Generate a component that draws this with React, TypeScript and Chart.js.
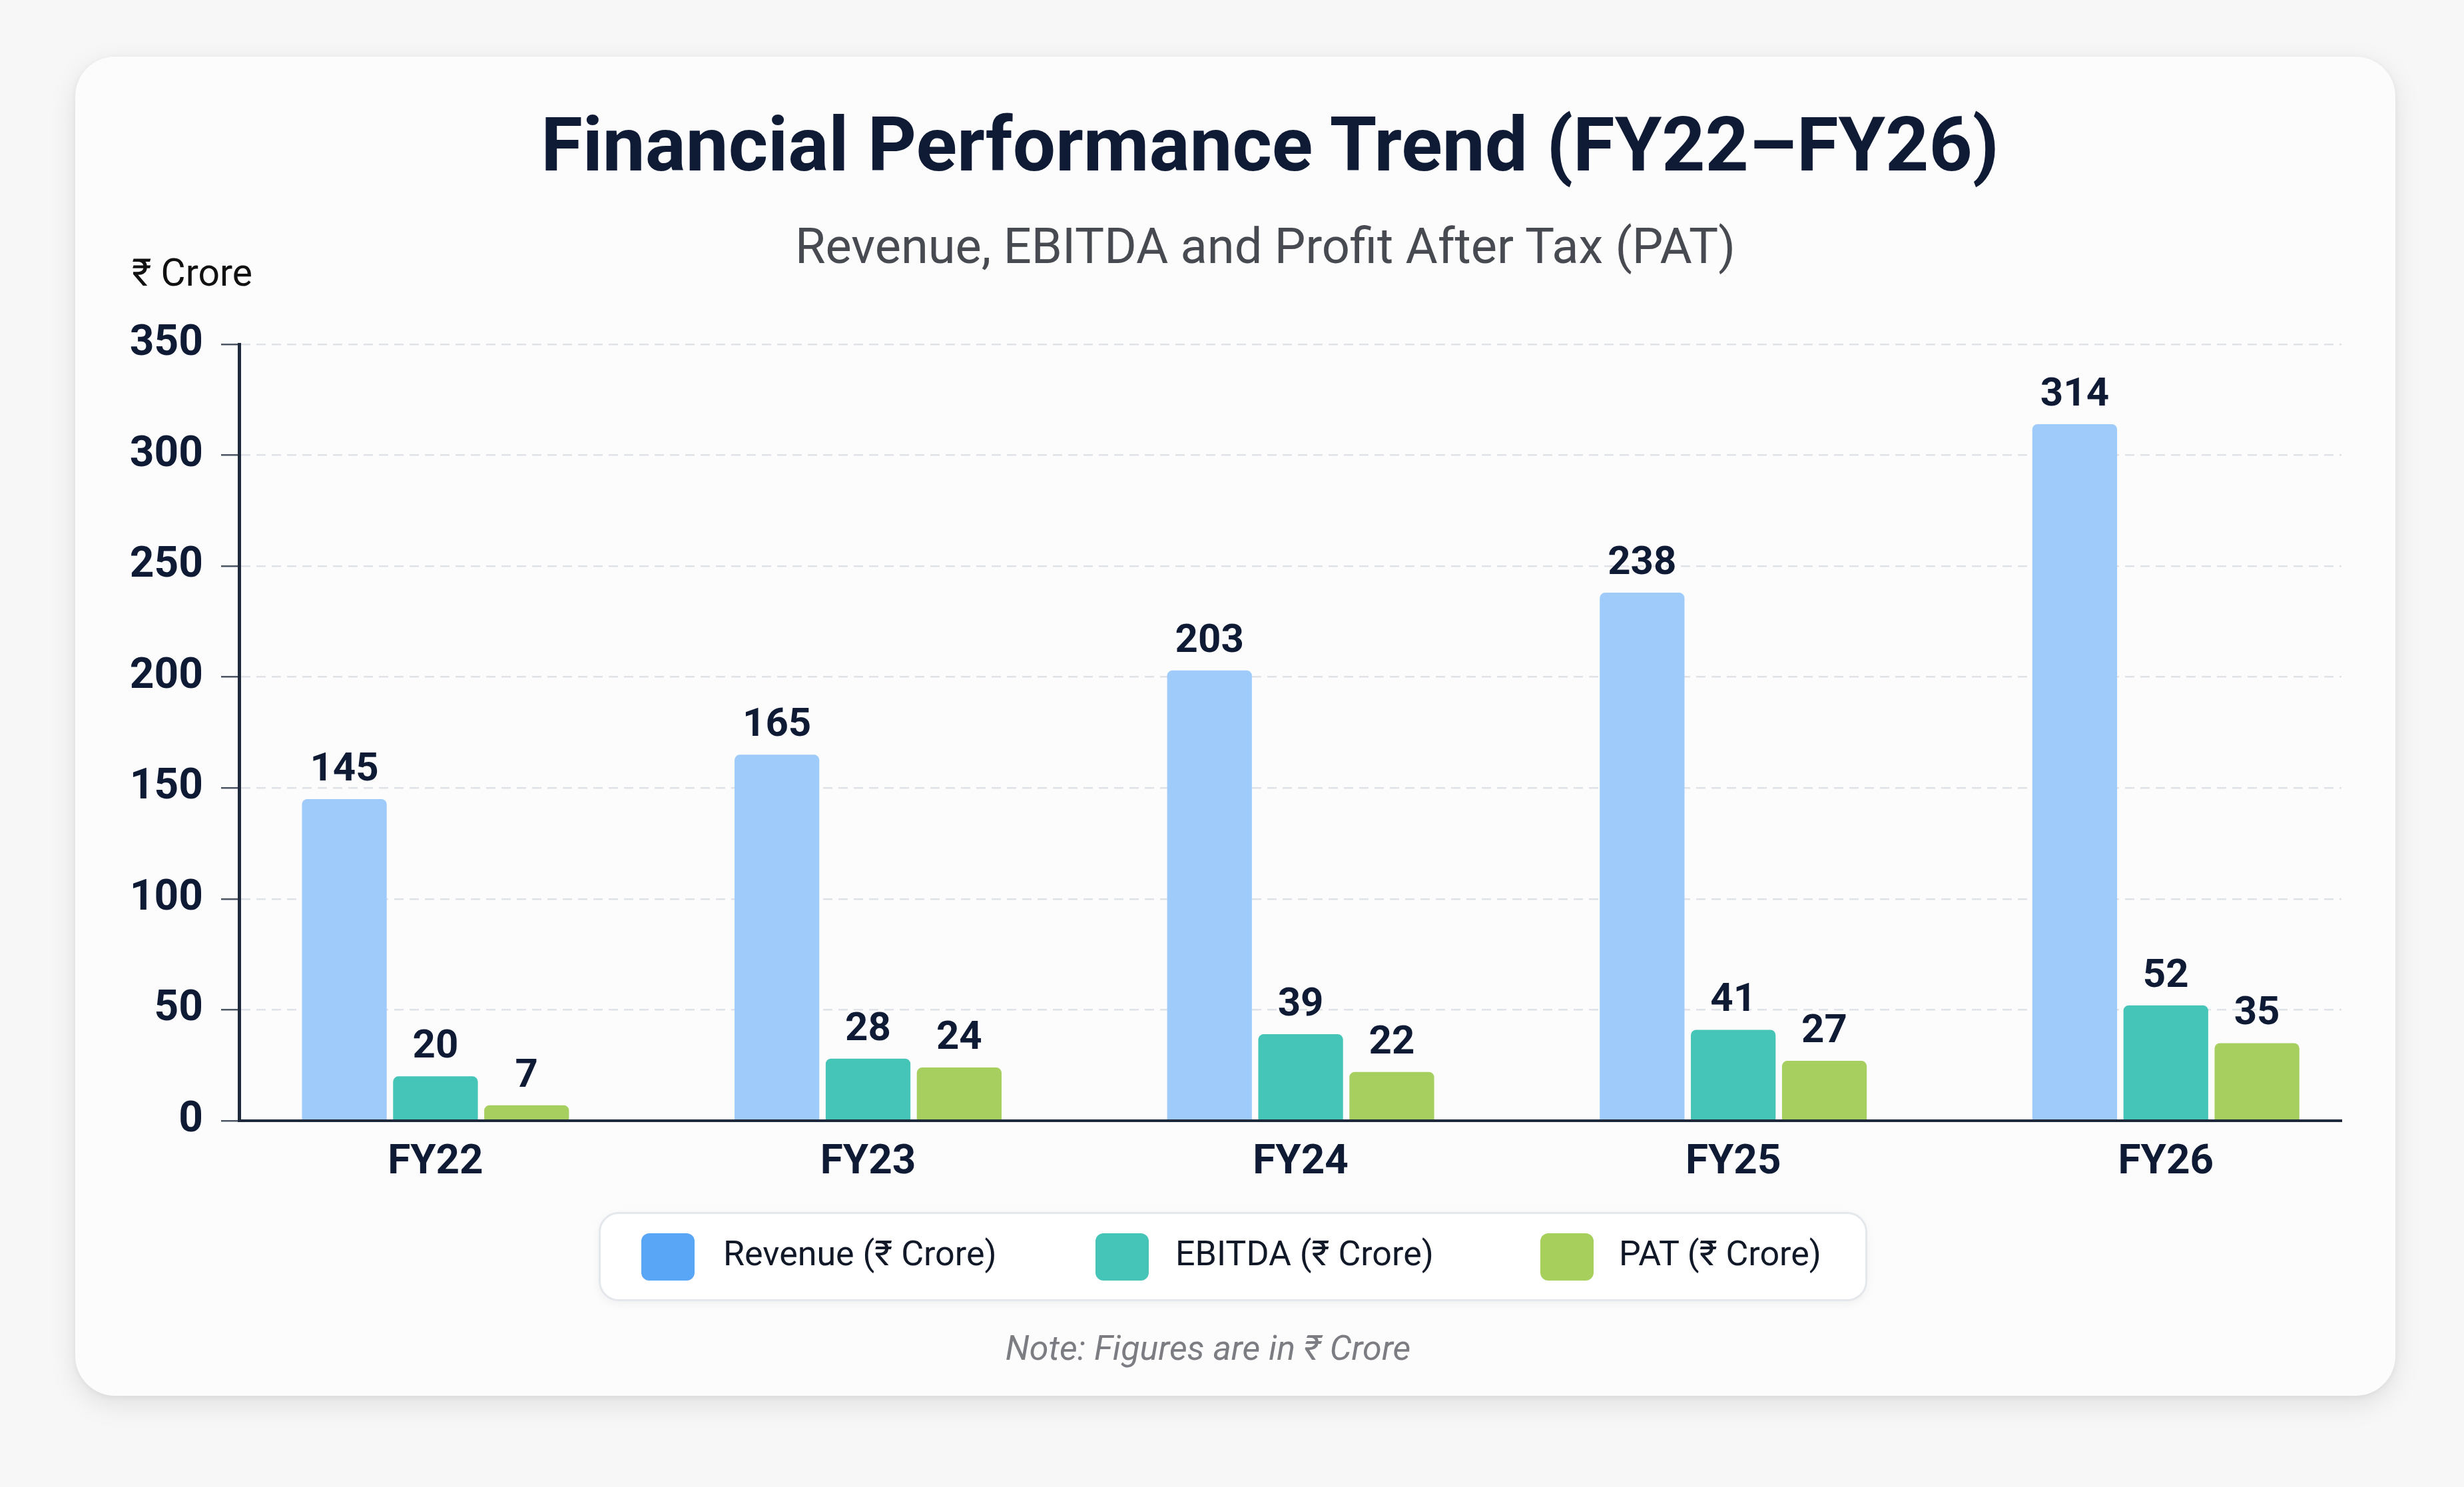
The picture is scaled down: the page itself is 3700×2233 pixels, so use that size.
import React, { useEffect, useRef } from "react";
import { Chart, registerables } from "chart.js";

Chart.register(...registerables);

// ---- Data ----
const categories = ["FY22", "FY23", "FY24", "FY25", "FY26"];
const revenue = [145, 165, 203, 238, 314];
const ebitda = [20, 28, 39, 41, 52];
const pat = [7, 24, 22, 27, 35];
const seriesNames = ["Revenue (₹ Crore)", "EBITDA (₹ Crore)", "PAT (₹ Crore)"];
const seriesData = [revenue, ebitda, pat];
const yMin = 0;
const yMax = 350;
const yStep = 50;
// category-index axis range (how far the axis runs past the first/last group)
const xMin = -0.454;
const xMax = 4.406;

const titleText = "Financial Performance Trend (FY22–FY26)";
const subtitleText = "Revenue, EBITDA and Profit After Tax (PAT)";
const unitText = "₹ Crore";
const noteText = "Note: Figures are in ₹ Crore";

// ---- Styles ----
const NAVY = "#0f1b35";
const barColors = ["#9ecbfa", "#45c4b8", "#a6cf60"];
const swatchColors = ["#5aa6f6", "#45c4b8", "#a6cf5c"];
const FONT = "Roboto, 'Noto Sans', 'DejaVu Sans', sans-serif";

const valueLabels = {
  id: "valueLabels",
  afterDatasetsDraw(chart: any) {
    const ctx = chart.ctx;
    ctx.save();
    ctx.font = `bold 60px ${FONT}`;
    ctx.fillStyle = NAVY;
    ctx.textAlign = "center";
    ctx.textBaseline = "alphabetic";
    chart.data.datasets.forEach((_ds: any, i: number) => {
      const meta = chart.getDatasetMeta(i);
      meta.data.forEach((bar: any, j: number) => {
        ctx.fillText(String(seriesData[i][j]), bar.x, bar.y - 28);
      });
    });
    ctx.restore();
  },
};

function BarChart() {
  const ref = useRef<HTMLCanvasElement | null>(null);
  useEffect(() => {
    if (!ref.current) return;
    const chart = new Chart(ref.current, {
      type: "bar",
      data: {
        datasets: seriesData.map((d, i) => ({
          label: seriesNames[i],
          data: d.map((v, k) => ({ x: k, y: v })),
          backgroundColor: barColors[i],
          borderRadius: { topLeft: 8, topRight: 8, bottomLeft: 0, bottomRight: 0 },
          borderSkipped: false,
          categoryPercentage: 0.632,
          barPercentage: 0.93,
        })),
      },
      options: {
        responsive: false,
        animation: false,
        devicePixelRatio: 1,
        layout: { padding: { left: 0, top: 67, right: 34, bottom: 57 } },
        plugins: {
          legend: { display: false },
          tooltip: { enabled: false },
          title: { display: false },
        },
        scales: {
          x: {
            type: "linear",
            min: xMin,
            max: xMax,
            offset: false,
            grid: { display: false },
            border: { display: true, color: "#1e293b", width: 4, z: 1 },
            ticks: {
              stepSize: 1,
              includeBounds: false,
              autoSkip: false,
              maxRotation: 0,
              callback: (v: any) => categories[Math.round(Number(v))] ?? "",
              color: NAVY,
              font: { family: FONT, size: 62, weight: "bold" },
              padding: 18,
            },
            afterFit: (s: any) => {
              s.height = 110;
            },
          },
          y: {
            min: yMin,
            max: yMax,
            ticks: {
              stepSize: yStep,
              color: NAVY,
              font: { family: FONT, size: 64, weight: "bold" },
              padding: 27,
            },
            grid: {
              color: "#dfe2e7",
              lineWidth: 2.5,
              tickLength: 27,
              tickColor: "#4b5563",
              tickWidth: 2.5,
            },
            border: { display: true, color: "#1e293b", width: 5, dash: [14, 9], z: 1 },
            afterFit: (s: any) => {
              s.width = 209;
            },
          },
        },
      },
      plugins: [valueLabels],
    });
    return () => chart.destroy();
  }, []);
  return <canvas ref={ref} width={3400} height={1400} style={{ display: "block" }} />;
}

export default function App() {
  const legendOffsets = [
    { sw: 64, tx: 187 },
    { sw: 746, tx: 866 },
    { sw: 1414, tx: 1532 },
  ];
  return (
    <div
      style={{
        position: "absolute",
        left: 0,
        top: 0,
        width: 3700,
        height: 2233,
        background: "#f7f7f8",
        overflow: "hidden",
        fontFamily: FONT,
      }}
    >
      {/* card */}
      <div
        style={{
          position: "absolute",
          left: 113,
          top: 85,
          width: 3484,
          height: 2011,
          borderRadius: 60,
          background: "#fcfcfd",
          boxShadow: "0 12px 40px rgba(0,0,0,0.10), 0 2px 8px rgba(0,0,0,0.05)",
        }}
      />
      {/* title */}
      <div
        style={{
          position: "absolute",
          left: 407,
          width: 3000,
          top: 147,
          height: 140,
          lineHeight: "140px",
          textAlign: "center",
          fontSize: 114,
          fontWeight: 700,
          color: NAVY,
          whiteSpace: "nowrap",
        }}
      >
        {titleText}
      </div>
      {/* subtitle */}
      <div
        style={{
          position: "absolute",
          left: 400,
          width: 3000,
          top: 320,
          height: 100,
          lineHeight: "100px",
          textAlign: "center",
          fontSize: 74,
          fontWeight: 400,
          color: "#474a50",
          whiteSpace: "nowrap",
        }}
      >
        {subtitleText}
      </div>
      {/* unit label */}
      <div
        style={{
          position: "absolute",
          left: 198,
          top: 360,
          height: 100,
          lineHeight: "100px",
          fontSize: 57,
          color: "#111111",
          whiteSpace: "nowrap",
        }}
      >
        {unitText}
      </div>
      {/* chart */}
      <div style={{ position: "absolute", left: 150, top: 450, width: 3400, height: 1400 }}>
        <BarChart />
      </div>
      {/* legend */}
      <div
        style={{
          position: "absolute",
          left: 899,
          top: 1820,
          width: 1905,
          height: 134,
          boxSizing: "border-box",
          border: "3px solid #e4e7eb",
          borderRadius: 30,
          background: "#ffffff",
          boxShadow: "0 4px 14px rgba(0,0,0,0.05)",
        }}
      >
        {seriesNames.map((name, i) => (
          <React.Fragment key={name}>
            <div
              style={{
                position: "absolute",
                left: legendOffsets[i].sw - 3,
                top: 29,
                width: 80,
                height: 71,
                borderRadius: 12,
                background: swatchColors[i],
              }}
            />
            <div
              style={{
                position: "absolute",
                left: legendOffsets[i].tx - 3,
                top: 10,
                height: 100,
                lineHeight: "100px",
                fontSize: 52,
                color: "#111827",
                whiteSpace: "nowrap",
              }}
            >
              {name}
            </div>
          </React.Fragment>
        ))}
      </div>
      {/* note */}
      <div
        style={{
          position: "absolute",
          left: 314,
          width: 3000,
          top: 1985,
          height: 80,
          lineHeight: "80px",
          textAlign: "center",
          fontSize: 52,
          fontStyle: "italic",
          color: "#7b7d82",
          whiteSpace: "nowrap",
        }}
      >
        {noteText}
      </div>
    </div>
  );
}
